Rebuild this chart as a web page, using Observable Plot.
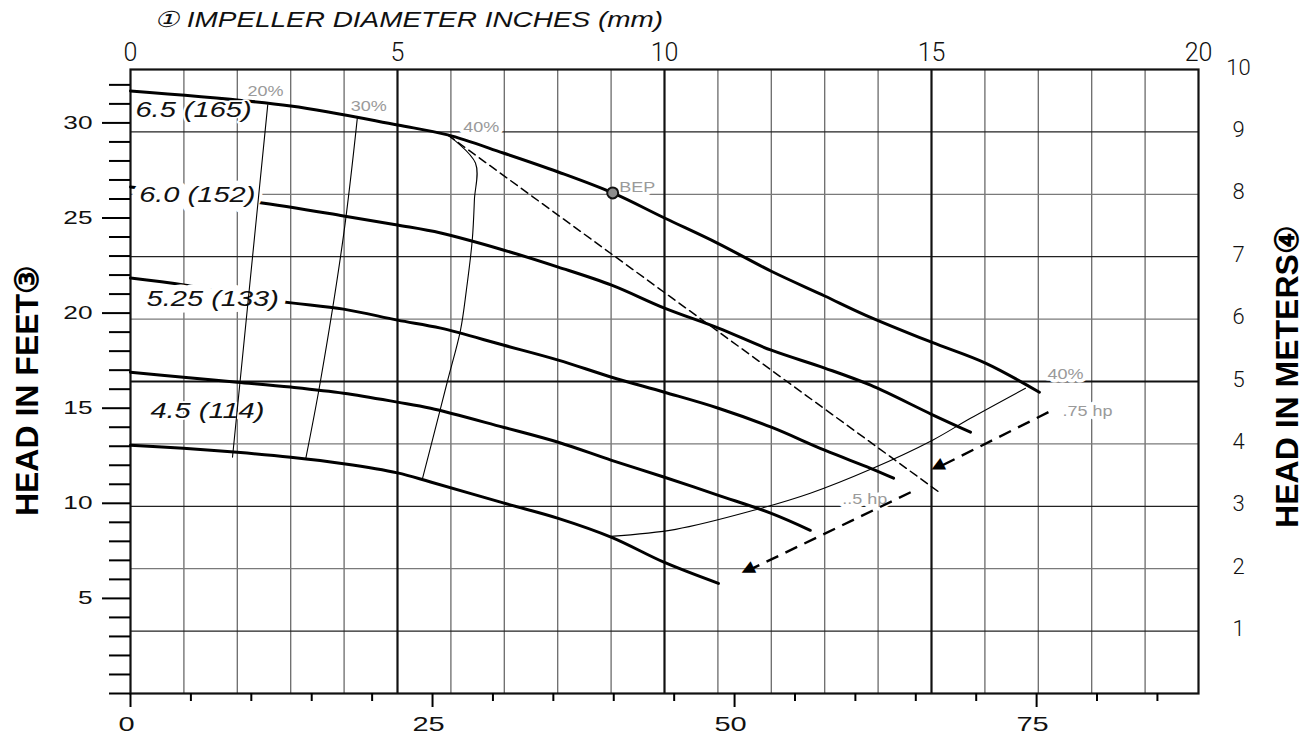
<!DOCTYPE html>
<html>
<head>
<meta charset="utf-8">
<script src="https://cdn.jsdelivr.net/npm/d3@7"></script>
<script src="https://cdn.jsdelivr.net/npm/@observablehq/plot@0.6"></script>
<style>
  body { margin: 0; background: #fff; }
  #chart svg { display: block; }
</style>
</head>
<body>
<div id="chart"></div>
<script>
// ---------------- data (flow in m3/h on the top scale, head in feet) ----------------
const topTicks = [0, 5, 10, 15, 20];
const gpmMajorTicks = [0, 25, 50, 75];
const gpmMinorTicks = [5, 10, 15, 20, 30, 35, 40, 45, 55, 60, 65, 70, 80, 85];
const feetMajorTicks = [5, 10, 15, 20, 25, 30];
const feetMinorTicks = [0, 1, 2, 3, 4, 6, 7, 8, 9, 11, 12, 13, 14, 16, 17, 18, 19, 21, 22, 23, 24, 26, 27, 28, 29, 31, 32];
const meterTicks = [1, 2, 3, 4, 5, 6, 7, 8, 9, 10];
const gridFlowThin = [1, 2, 3, 4, 6, 7, 8, 9, 11, 12, 13, 14, 16, 17, 18, 19];
const gridFlowBold = [5, 10, 15];
const gridMetersDark = [1, 3, 7, 9];
const gridMetersLight = [2, 4, 6, 8];
const gridMetersBold = [5];

const curveNames = ["6.5 (165)", "6.0 (152)", "5.25 (133)", "4.5 (114)", "bottom"];
const curve1Flow = [0, 3.0, 5.0, 5.94, 6.98, 8.01, 9.03, 10.0, 10.99, 12.0, 13.0, 13.76, 15.0, 16.01, 17.02];
const curve1Head = [31.68, 30.89, 29.89, 29.37, 28.42, 27.42, 26.32, 25.0, 23.68, 22.2, 20.9, 19.9, 18.47, 17.37, 15.84];
const curve2Flow = [0, 2.34, 3.99, 5.0, 5.81, 6.98, 8.01, 9.01, 10.0, 11.01, 12.0, 13.0, 13.86, 15.0, 15.73];
const curve2Head = [26.63, 25.84, 25.11, 24.63, 24.21, 23.32, 22.42, 21.47, 20.26, 19.21, 18.05, 17.11, 16.21, 14.68, 13.74];
const curve3Flow = [0, 1.03, 2.75, 3.99, 5.0, 5.81, 6.98, 8.01, 9.01, 10.0, 11.01, 12.0, 13.0, 13.86, 14.29];
const curve3Head = [21.84, 21.47, 20.63, 20.21, 19.63, 19.21, 18.32, 17.53, 16.63, 15.84, 15.0, 14.0, 12.79, 11.84, 11.32];
const curve4Flow = [0, 0.99, 2.0, 3.0, 3.99, 5.0, 5.62, 6.98, 8.01, 9.01, 10.0, 11.01, 12.0, 12.73];
const curve4Head = [16.89, 16.63, 16.37, 16.11, 15.79, 15.32, 15.0, 14.0, 13.21, 12.26, 11.37, 10.42, 9.47, 8.58];
const curve5Flow = [0, 0.99, 2.0, 3.0, 3.99, 5.0, 5.62, 6.98, 8.01, 9.01, 10.0, 11.01];
const curve5Head = [13.05, 12.89, 12.68, 12.42, 12.08, 11.6, 11.12, 10.02, 9.21, 8.21, 6.89, 5.79];

const effNames = ["20%", "30%", "40% left", "40% right"];
const eff20Flow = [2.57, 1.91];
const eff20Head = [30.95, 12.42];
const eff30Flow = [4.25, 3.99, 3.56, 3.28];
const eff30Head = [30.32, 24.1, 16.47, 12.32];
const eff40aFlow = [5.94, 6.46, 6.44, 6.40, 6.29, 6.18, 5.94, 5.62, 5.47];
const eff40aHead = [29.37, 27.89, 25.95, 23.84, 21.21, 19.11, 16.47, 12.95, 11.32];
const eff40bFlow = [8.99, 10.21, 11.67, 12.73, 13.86, 15.02, 15.73, 16.76];
const eff40bHead = [8.26, 8.63, 9.63, 10.53, 11.79, 13.32, 14.47, 16.05];

const dashFlow = [5.94, 15.17];
const dashHead = [29.37, 10.53];

const hpNames = [".75 hp", ".5 hp"];
const hpFromFlow = [17.19, 14.61];
const hpFromHead = [14.79, 10.58];
const hpToFlow = [15.02, 11.46];
const hpToHead = [11.74, 6.32];

const bepFlow = [9.03];
const bepHead = [26.32];

const curveLabelText = ["6.5 (165)", "6.0 (152)", "5.25 (133)", "4.5 (114)"];
const curveLabelFlow = [1.18, 1.25, 1.54, 1.44];
const curveLabelHead = [30.68, 26.21, 20.74, 14.84];
const curveLabelOnLine = [false, true, true, false];

const noteText = ["20%", "30%", "40%", "BEP", "40%", ".75 hp", "..5 hp"];
const noteFlow = [2.53, 4.46, 6.57, 9.49, 17.51, 17.92, 13.75];
const noteHead = [31.68, 30.89, 29.79, 26.63, 16.79, 14.84, 10.21];

const topTitle = "\u2460 IMPELLER DIAMETER INCHES (mm)";
const leftTitle = "HEAD IN FEET\u2462";
const rightTitle = "HEAD IN METERS\u2463";

// ---------------- constants ----------------
const FT_PER_M = 3.2808;
const GPM_PER_M3H = 4.42;
const W = 1310, H = 736;
const mL = 130, mR = 112, mT = 69, mB = 43;
const yMax = 10 * FT_PER_M;
const pxPerFlow = (W - mL - mR) / 20;
const pxPerFt = (H - mT - mB) / yMax;

// ---------------- tables ----------------
const toRows = (name, xs, ys) => xs.map((x, i) => ({name, flow: x, head: ys[i]}));
const curveRows = [
  ...toRows(curveNames[0], curve1Flow, curve1Head),
  ...toRows(curveNames[1], curve2Flow, curve2Head),
  ...toRows(curveNames[2], curve3Flow, curve3Head),
  ...toRows(curveNames[3], curve4Flow, curve4Head),
  ...toRows(curveNames[4], curve5Flow, curve5Head)
];
const effRows = [
  ...toRows(effNames[0], eff20Flow, eff20Head),
  ...toRows(effNames[1], eff30Flow, eff30Head),
  ...toRows(effNames[2], eff40aFlow, eff40aHead),
  ...toRows(effNames[3], eff40bFlow, eff40bHead)
];
const dashRows = toRows("dash", dashFlow, dashHead);
const hpRows = hpNames.map((n, i) => {
  const dxp = (hpToFlow[i] - hpFromFlow[i]) * pxPerFlow;
  const dyp = -(hpToHead[i] - hpFromHead[i]) * pxPerFt;
  const len = Math.hypot(dxp, dyp);
  const ang = Math.atan2(dyp, dxp) * 180 / Math.PI;
  const back = 6; // pixels: centre of the head sits just behind the tip
  return {
    name: n,
    x1: hpFromFlow[i], y1: hpFromHead[i],
    hx: hpToFlow[i] - (dxp / len) * back / pxPerFlow,
    hy: hpToHead[i] + (dyp / len) * back / pxPerFt,
    rot: ang
  };
});
const curveLabels = curveLabelText.map((t, i) => ({t, flow: curveLabelFlow[i], head: curveLabelHead[i], onLine: curveLabelOnLine[i]}));
const notes = noteText.map((t, i) => ({t, flow: noteFlow[i], head: noteHead[i]}));
const bep = bepFlow.map((f, i) => ({flow: f, head: bepHead[i]}));

const sans = "'Liberation Sans', Arial, Helvetica, sans-serif";
const thin = "Roboto, 'DejaVu Sans', sans-serif";
const labelStyle = {x: "flow", y: "head", text: "t", fill: "#111", fontSize: 22, fontStyle: "italic",
  fontFamily: sans, stroke: "white", paintOrder: "stroke", strokeLinejoin: "round", ariaDescription: "curve-labels"};

const plot = Plot.plot({
  width: W,
  height: H,
  marginLeft: mL,
  marginRight: mR,
  marginTop: mT,
  marginBottom: mB,
  style: {background: "#fff", fontFamily: sans, color: "#000", overflow: "visible"},
  x: {domain: [0, 20], axis: null},
  y: {domain: [0, yMax], axis: null},
  marks: [
    // grid
    Plot.ruleX(gridFlowThin, {stroke: "#6a6a6a", strokeWidth: 1.3}),
    Plot.ruleY(gridMetersLight, {y: m => m * FT_PER_M, stroke: "#7a7a7a", strokeWidth: 1.3}),
    Plot.ruleY(gridMetersDark, {y: m => m * FT_PER_M, stroke: "#222", strokeWidth: 1.2}),
    Plot.ruleY(gridMetersBold, {y: m => m * FT_PER_M, stroke: "#111", strokeWidth: 1.8}),
    Plot.ruleX(gridFlowBold, {stroke: "#111", strokeWidth: 2.2}),
    Plot.frame({stroke: "#111", strokeWidth: 2.2}),

    // axes
    Plot.axisY(feetMinorTicks, {anchor: "left", tickSize: 21, strokeWidth: 2, tickFormat: () => ""}),
    Plot.axisY(feetMajorTicks, {anchor: "left", tickSize: 28, tickPadding: 10, strokeWidth: 2,
      fontSize: 19, fontFamily: sans, fill: "#111", ariaDescription: "stretch-axis"}),
    Plot.axisY(meterTicks.map(m => m * FT_PER_M), {anchor: "right", tickSize: 0, tickPadding: 40,
      textAnchor: "middle", dy: -2, fontSize: 22, fontFamily: thin, fontWeight: 300, fill: "#111",
      tickFormat: d => String(Math.round(d / FT_PER_M))}),
    Plot.axisX(gpmMinorTicks.map(g => g / GPM_PER_M3H), {anchor: "bottom", tickSize: 8, strokeWidth: 2, tickFormat: () => ""}),
    Plot.axisX(gpmMajorTicks.map(g => g / GPM_PER_M3H), {anchor: "bottom", tickSize: 14, strokeWidth: 2, tickFormat: () => ""}),
    Plot.axisX(gpmMajorTicks.map(g => g / GPM_PER_M3H), {anchor: "bottom", tickSize: 0, tickPadding: 23, strokeWidth: 0,
      fontSize: 21, fontFamily: sans, fill: "#111", ariaDescription: "stretch-axis", dx: -4,
      tickFormat: d => String(Math.round(d * GPM_PER_M3H))}),
    Plot.axisX(topTicks, {anchor: "top", tickSize: 0, tickPadding: 9, fontSize: 25, fontFamily: thin, fontWeight: 300, fill: "#111"}),

    // gray annotations with white boxes
    Plot.text(notes, {x: "flow", y: "head", text: "t", fill: "#9a9a9a", fontSize: 15, fontFamily: sans,
      stroke: "white", strokeWidth: 7, paintOrder: "stroke", strokeLinejoin: "round", ariaDescription: "notes"}),

    // pump curves
    Plot.line(curveRows, {x: "flow", y: "head", z: "name", stroke: "#000", strokeWidth: 3, curve: "catmull-rom"}),

    // curve labels (those sitting on a curve blank it out with a wide white box)
    Plot.text(curveLabels, {...labelStyle, filter: d => !d.onLine, strokeWidth: 3.5}),
    Plot.text(curveLabels, {...labelStyle, filter: d => d.onLine, strokeWidth: 13}),

    // efficiency lines
    Plot.line(effRows, {x: "flow", y: "head", z: "name", stroke: "#000", strokeWidth: 1.1, curve: "catmull-rom"}),
    Plot.line(dashRows, {x: "flow", y: "head", stroke: "#000", strokeWidth: 1.5, strokeDasharray: "8,5"}),

    // power arrows
    Plot.link(hpRows, {x1: "x1", y1: "y1", x2: "hx", y2: "hy", stroke: "#000", strokeWidth: 2.4, strokeDasharray: "13,8"}),
    Plot.text(hpRows, {x: "hx", y: "hy", text: () => "\u25B6", rotate: "rot", fontSize: 17, fill: "#000",
      fontFamily: "'DejaVu Sans', sans-serif", textAnchor: "middle", lineAnchor: "middle"}),

    // BEP marker
    Plot.dot(bep, {x: "flow", y: "head", r: 5.5, fill: "#8c8c8c", stroke: "#111", strokeWidth: 2}),

    // titles
    Plot.text([topTitle], {frameAnchor: "top-left", dx: 23, dy: -50, textAnchor: "start", lineAnchor: "middle",
      fontSize: 22, fontStyle: "italic", fontFamily: sans, fill: "#111", ariaDescription: "title-top"}),
    Plot.text([leftTitle], {frameAnchor: "left", dx: -103, dy: 9, rotate: -90, textAnchor: "middle", lineAnchor: "middle",
      fontSize: 32, fontWeight: "bold", fontFamily: sans, fill: "#000"}),
    Plot.text([rightTitle], {frameAnchor: "right", dx: 89, dy: -5, rotate: -90, textAnchor: "middle", lineAnchor: "middle",
      fontSize: 32, fontWeight: "bold", fontFamily: sans, fill: "#000"})
  ]
});

// the original lettering is drawn horizontally widened: reproduce that stretch
// (only the horizontal position is moved into the transform; the em-based
//  vertical line-anchor offset is left untouched)
function stretch(desc, k) {
  plot.querySelectorAll(`g[aria-description="${desc}"] text`).forEach(el => {
    let t = el.getAttribute("transform") || "";
    const x = el.getAttribute("x");
    if (x !== null && !/em$/.test(x) && +x !== 0) {
      t += ` translate(${+x},0)`;
      el.removeAttribute("x");
    }
    el.setAttribute("transform", `${t} scale(${k},1)`);
  });
}
stretch("curve-labels", 1.32);
stretch("title-top", 1.27);
stretch("notes", 1.2);
stretch("stretch-axis", 1.38);

document.getElementById("chart").appendChild(plot);
</script>
</body>
</html>
